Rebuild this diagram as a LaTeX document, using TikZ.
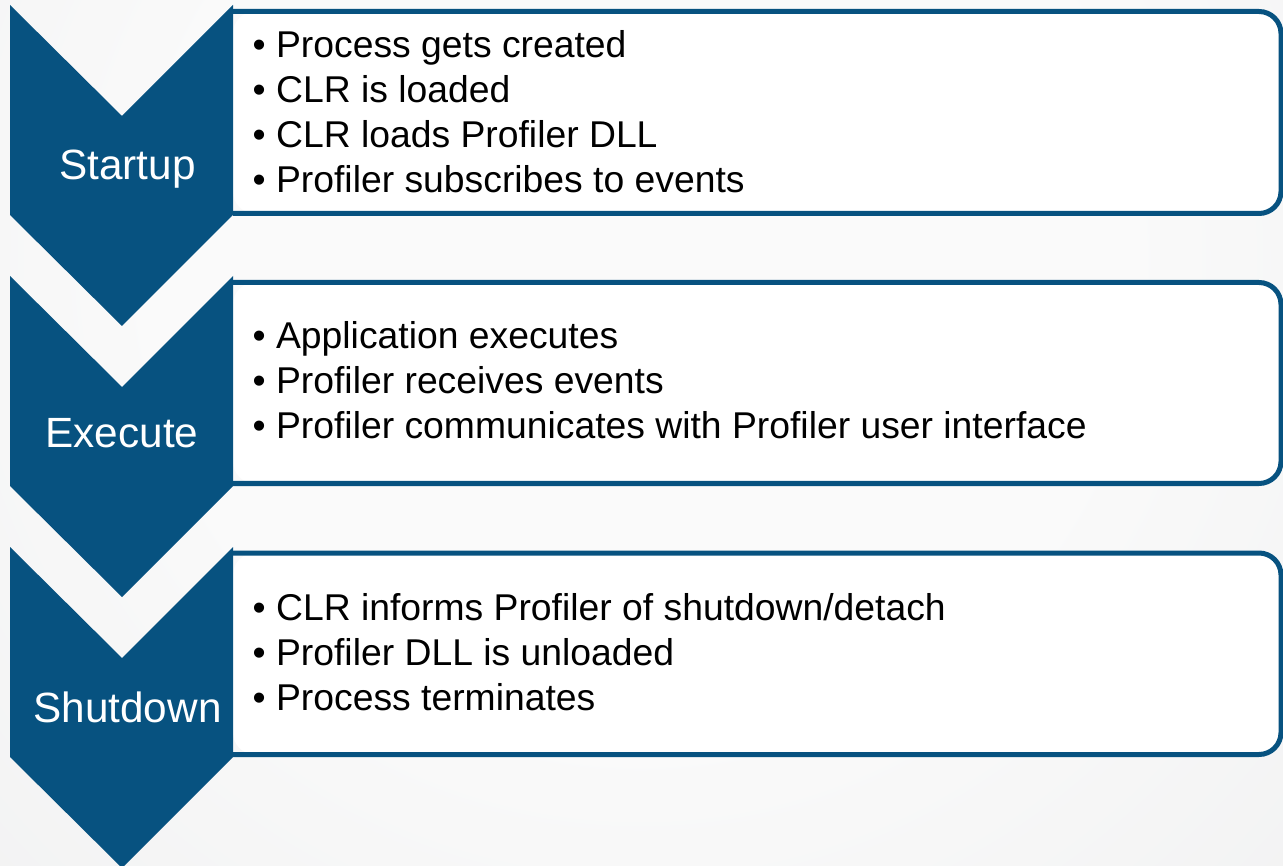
\documentclass[tikz,border=0pt]{standalone}
\usepackage{fontspec}
\setmainfont{Liberation Sans}
\definecolor{phaseblue}{RGB}{7,82,128}
\definecolor{bginner}{RGB}{250,250,250}
\definecolor{bgouter}{RGB}{228,229,230}
\pgfdeclareradialshading{bgglow}{\pgfpoint{0bp}{0bp}}{color(0bp)=(bginner); color(12bp)=(bginner); color(42bp)=(bgouter); color(50bp)=(bgouter)}
\tikzset{
  phase/.style={fill=phaseblue},
  stepbox/.style={draw=phaseblue, line width=5pt, rounded corners=22pt},
  phaselabel/.style={text=white, inner sep=0pt, anchor=base, font=\fontsize{42.3}{48}\selectfont},
  item/.style={text=black, inner sep=0pt, anchor=base west, font=\fontsize{37.3}{44}\selectfont},
}
% one chevron pointing down, top edge at #1
\newcommand{\chevronat}[1]{%
  \fill[phase] (10,#1) -- (122,#1+111) -- (233,#1) -- (233,#1+210)
    -- (122,#1+321) -- (10,#1+210) -- cycle;}
% text panel from #1 to #2 (stroke centres), open on the left, rounded on the right
\newcommand{\panelat}[2]{%
  \fill[white, rounded corners=22pt] (233,#1) -- (1281,#1) -- (1281,#2) -- (233,#2) -- cycle;
  \draw[stepbox] (233,#1) -- (1281,#1) -- (1281,#2) -- (233,#2);}
\begin{document}
\begin{tikzpicture}[x=1pt,y=-1pt]
\useasboundingbox (0,0) rectangle (1283,866);
\begin{scope}
  \clip (0,0) rectangle (1283,866);
  \fill[bgouter] (0,0) rectangle (1283,866);
  \shade[shading=bgglow] (640,260) circle (1000);
\end{scope}

\panelat{11.5}{213.5}
\panelat{282.5}{483.5}
\panelat{553}{754.5}

\chevronat{5}
\chevronat{276}
\chevronat{547}

\node[phaselabel] (startup)  at (127.5,180) {Startup};
\node[phaselabel] (execute)  at (122,448)   {Execute};
\node[phaselabel] (shutdown) at (127.5,722) {Shutdown};

\node[item] (s1) at (252.5,58)  {• Process gets created};
\node[item] (s2) at (252.5,103) {• CLR is loaded};
\node[item] (s3) at (252.5,148) {• CLR loads Profiler DLL};
\node[item] (s4) at (252.5,193) {• Profiler subscribes to events};

\node[item] (e1) at (252.5,349) {• Application executes};
\node[item] (e2) at (252.5,394) {• Profiler receives events};
\node[item] (e3) at (252.5,439) {• Profiler communicates with Profiler user interface};

\node[item] (d1) at (252.5,620) {• CLR informs Profiler of shutdown/detach};
\node[item] (d2) at (252.5,665) {• Profiler DLL is unloaded};
\node[item] (d3) at (252.5,710) {• Process terminates};
\end{tikzpicture}
\end{document}
